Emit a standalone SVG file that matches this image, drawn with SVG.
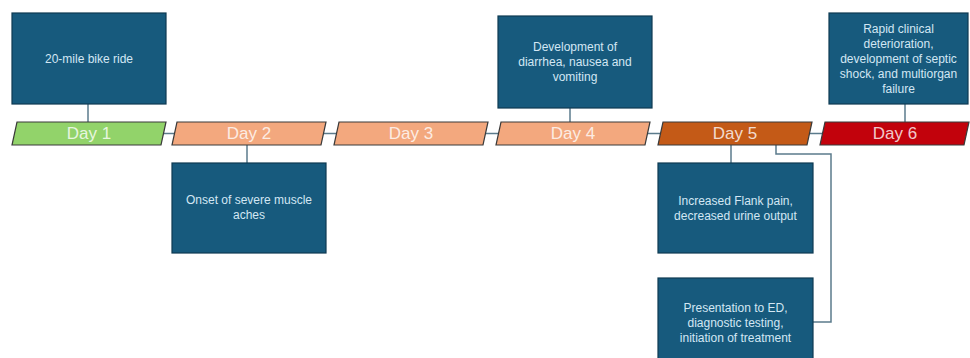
<svg xmlns="http://www.w3.org/2000/svg" width="970" height="358" viewBox="0 0 970 358">
<style>
.box{fill:#175a7d;stroke:#0e3a52;stroke-width:1.2}
.bt{font-family:"Liberation Sans",Arial,sans-serif;font-size:12px;fill:#d3e7f4;text-anchor:middle;dominant-baseline:central}
.day{stroke:#3a3a3a;stroke-width:1.2}
.dt{font-family:"Liberation Sans",Arial,sans-serif;font-size:17px;fill:#fff;fill-opacity:0.8;text-anchor:middle;dominant-baseline:central}
.con{fill:none;stroke:#5b7b8c;stroke-width:1.5}
</style>
<rect width="970" height="358" fill="#fff"/>
<g id="connectors">
<line class="con" x1="162" y1="133.5" x2="176" y2="133.5"/>
<line class="con" x1="323" y1="133.5" x2="338" y2="133.5"/>
<line class="con" x1="485" y1="133.5" x2="500" y2="133.5"/>
<line class="con" x1="647" y1="133.5" x2="662" y2="133.5"/>
<line class="con" x1="809" y1="133.5" x2="824" y2="133.5"/>
<line class="con" x1="88" y1="104" x2="88" y2="122"/>
<line class="con" x1="570" y1="108" x2="570" y2="122"/>
<line class="con" x1="905" y1="104" x2="905" y2="122"/>
<line class="con" x1="247" y1="145" x2="247" y2="163"/>
<line class="con" x1="731" y1="145" x2="731" y2="163"/>
<polyline class="con" points="776,145 776,154 831,154 831,322 813,322"/>
</g>
<g id="day1"><polygon class="day" fill="#92d36a" points="17,122 166,122 161,145 12,145"/><text class="dt" x="89" y="133.5">Day 1</text></g>
<g id="day2"><polygon class="day" fill="#f3a87e" points="177,122 326,122 321,145 172,145"/><text class="dt" x="249" y="133.5">Day 2</text></g>
<g id="day3"><polygon class="day" fill="#f3a87e" points="339,122 488,122 483,145 334,145"/><text class="dt" x="411" y="133.5">Day 3</text></g>
<g id="day4"><polygon class="day" fill="#f3a87e" points="501,122 650,122 645,145 496,145"/><text class="dt" x="573" y="133.5">Day 4</text></g>
<g id="day5"><polygon class="day" fill="#c45a17" points="663,122 812,122 807,145 658,145"/><text class="dt" x="735" y="133.5">Day 5</text></g>
<g id="day6"><polygon class="day" fill="#c2020c" points="825,122 969,122 964,145 820,145"/><text class="dt" x="895" y="133.5">Day 6</text></g>
<g id="box-day1"><rect class="box" x="12" y="13" width="154" height="91"/><text class="bt" x="89" y="59">20-mile bike ride</text></g>
<g id="box-day2"><rect class="box" x="172" y="163" width="154" height="90"/><text class="bt" x="249" y="200">Onset of severe muscle</text><text class="bt" x="249" y="215">aches</text></g>
<g id="box-day4"><rect class="box" x="498" y="16" width="154" height="92"/><text class="bt" x="575" y="47">Development of</text><text class="bt" x="575" y="62">diarrhea, nausea and</text><text class="bt" x="575" y="77">vomiting</text></g>
<g id="box-day5a"><rect class="box" x="658" y="163" width="155" height="90"/><text class="bt" x="735.5" y="201">Increased Flank pain,</text><text class="bt" x="735.5" y="216">decreased urine output</text></g>
<g id="box-day5b"><rect class="box" x="658" y="278" width="155" height="84"/><text class="bt" x="735.5" y="308">Presentation to ED,</text><text class="bt" x="735.5" y="323">diagnostic testing,</text><text class="bt" x="735.5" y="338">initiation of treatment</text></g>
<g id="box-day6"><rect class="box" x="829" y="13" width="139" height="91"/><text class="bt" x="898.5" y="29">Rapid clinical</text><text class="bt" x="898.5" y="44">deterioration,</text><text class="bt" x="898.5" y="59">development of septic</text><text class="bt" x="898.5" y="74">shock, and multiorgan</text><text class="bt" x="898.5" y="89">failure</text></g>
</svg>
